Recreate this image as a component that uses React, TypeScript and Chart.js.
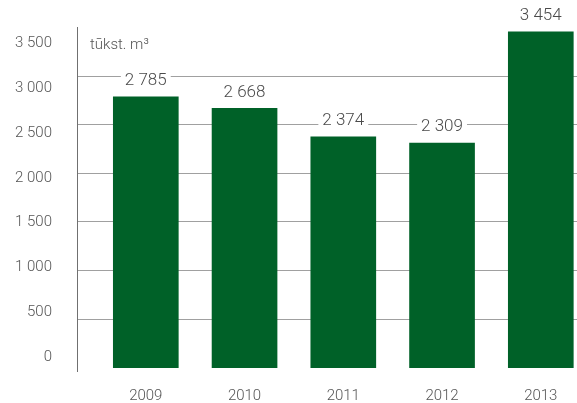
import React, { useEffect, useRef } from "react";
import { Chart, registerables } from "chart.js";

Chart.register(...registerables);

// ---- data ----
const years = [2009, 2010, 2011, 2012, 2013];
const volumes = [2785, 2668, 2374, 2309, 3454];
const yTickLabels = [0, 500, 1000, 1500, 2000, 2500, 3000, 3500];
const gridValues = [500, 1000, 1500, 2000, 2500, 3000];
const unitLabel = "tūkst. m³";

const FONT = "Roboto, 'Liberation Sans', Arial, sans-serif";
const fmt = (v: number) => String(Math.round(v)).replace(/\B(?=(\d{3})+(?!\d))/g, " ");

const valueLabels = {
  id: "valueLabels",
  afterDatasetsDraw(chart: any) {
    const ctx = chart.ctx;
    const meta = chart.getDatasetMeta(0);
    ctx.save();
    ctx.font = `300 17px ${FONT}`;
    ctx.textAlign = "center";
    ctx.textBaseline = "middle";
    meta.data.forEach((el: any, i: number) => {
      const text = fmt(volumes[i]);
      const w = ctx.measureText(text).width;
      const cy = el.y - 16;
      ctx.fillStyle = "#ffffff";
      ctx.fillRect(el.x - w / 2 - 4, cy - 10, w + 8, 20);
      ctx.fillStyle = "#4a4a4a";
      ctx.fillText(text, el.x, cy);
    });
    ctx.restore();
  },
};

const unitTitle = {
  id: "unitTitle",
  afterDraw(chart: any) {
    const ctx = chart.ctx;
    ctx.save();
    ctx.font = `300 15px ${FONT}`;
    ctx.textAlign = "left";
    ctx.textBaseline = "middle";
    ctx.fillStyle = "#555555";
    ctx.fillText(unitLabel, chart.chartArea.left + 13, 45);
    ctx.restore();
  },
};

export default function App() {
  const ref = useRef<HTMLCanvasElement | null>(null);

  useEffect(() => {
    if (!ref.current) return;
    const chart = new Chart(ref.current, {
      type: "bar",
      data: {
        datasets: [
          {
            data: years.map((x, i) => ({ x, y: volumes[i] })),
            backgroundColor: "#006128",
            borderWidth: 0,
            barThickness: 65,
          },
        ],
      },
      plugins: [valueLabels, unitTitle],
      options: {
        responsive: false,
        animation: false,
        layout: { padding: { top: 27.4, right: 0, bottom: 0, left: 0 } },
        plugins: { legend: { display: false }, tooltip: { enabled: false } },
        scales: {
          x: {
            type: "linear",
            position: "bottom",
            offset: false,
            min: 2008.3033,
            max: 2013.3666,
            grid: { display: false, drawTicks: false, offset: false },
            border: { display: false },
            afterBuildTicks: (s: any) => {
              s.ticks = years.map((v) => ({ value: v }));
            },
            afterFit: (s: any) => {
              s.height = 31.9;
              s.paddingLeft = 0;
              s.paddingRight = 0;
            },
            ticks: {
              autoSkip: false,
              maxRotation: 0,
              padding: 16,
              color: "#555555",
              font: { family: FONT, size: 15, weight: "300" },
              callback: (v: any) => String(v),
            },
          },
          y: {
            type: "linear",
            position: "left",
            weight: 0,
            min: -36,
            max: 3500,
            afterBuildTicks: (s: any) => {
              s.ticks = gridValues.map((v) => ({ value: v }));
            },
            afterFit: (s: any) => {
              s.width = 0;
              s.paddingTop = 0;
              s.paddingBottom = 0;
            },
            ticks: { display: false },
            grid: { color: "#a0a0a0", lineWidth: 1, drawTicks: false },
            border: { display: true, color: "#707070", width: 1 },
          },
          y2: {
            type: "linear",
            position: "left",
            weight: 1,
            min: -154,
            max: 3677,
            afterBuildTicks: (s: any) => {
              s.ticks = yTickLabels.map((v) => ({ value: v }));
            },
            afterFit: (s: any) => {
              s.width = 77;
              s.paddingTop = 0;
              s.paddingBottom = 0;
            },
            grid: { display: false, drawTicks: false },
            border: { display: false },
            ticks: {
              padding: 25,
              color: "#555555",
              font: { family: FONT, size: 15, weight: "300" },
              callback: (v: any) => fmt(Number(v)),
            },
          },
        },
      } as any,
    });
    return () => chart.destroy();
  }, []);

  return (
    <div style={{ position: "absolute", left: 0, top: 0, width: 577, height: 403 }}>
      <canvas ref={ref} width={577} height={403} />
    </div>
  );
}
